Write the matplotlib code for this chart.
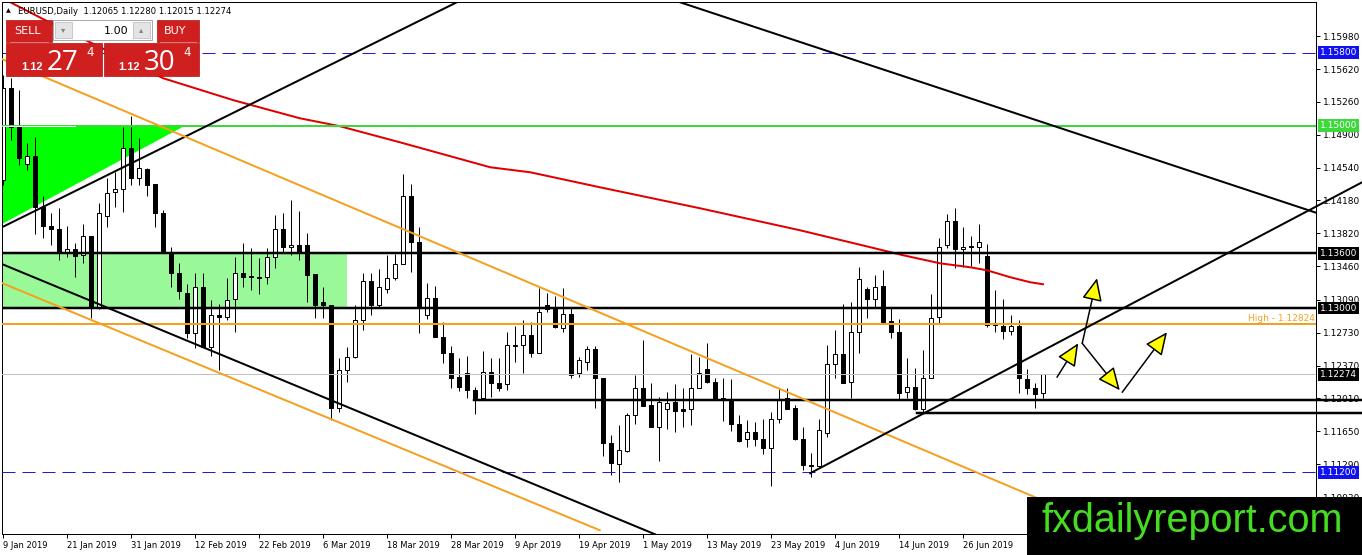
import numpy as np
import matplotlib
matplotlib.use("Agg")
import matplotlib.pyplot as plt
from matplotlib.patches import Rectangle, Polygon

# EURUSD daily, bar 0 = 9 Jan 2019
opens = [1.1440, 1.1541, 1.1498, 1.1458, 1.1467, 1.1411, 1.1390, 1.1387, 1.1360, 1.1365,
         1.1358, 1.1379, 1.1301, 1.1401, 1.1427, 1.1431, 1.1476, 1.1443, 1.1453, 1.1436,
         1.1404, 1.1359, 1.1338, 1.1317, 1.1273, 1.1323, 1.1257, 1.1293, 1.1290, 1.1310,
         1.1338, 1.1335, 1.1334, 1.1334, 1.1356, 1.1387, 1.1367, 1.1369, 1.1369, 1.1337,
         1.1307, 1.1304, 1.1191, 1.1232, 1.1246, 1.1287, 1.1330, 1.1303, 1.1321, 1.1333,
         1.1348, 1.1423, 1.1372, 1.1293, 1.1311, 1.1268, 1.1251, 1.1225, 1.1229, 1.1210,
         1.1201, 1.1230, 1.1218, 1.1217, 1.1259, 1.1260, 1.1271, 1.1251, 1.1303, 1.1301,
         1.1278, 1.1294, 1.1229, 1.1241, 1.1255, 1.1224, 1.1152, 1.1129, 1.1144, 1.1183,
         1.1212, 1.1194, 1.1170, 1.1189, 1.1197, 1.1189, 1.1189, 1.1212, 1.1233, 1.1219,
         1.1201, 1.1198, 1.1173, 1.1157, 1.1164, 1.1157, 1.1147, 1.1179, 1.1201, 1.1191,
         1.1157, 1.1128, 1.1127, 1.1163, 1.1239, 1.1250, 1.1219, 1.1274, 1.1321, 1.1310,
         1.1324, 1.1286, 1.1274, 1.1208, 1.1214, 1.1190, 1.1223, 1.1290, 1.1369, 1.1396,
         1.1365, 1.1367, 1.1367, 1.1357, 1.1283, 1.1280, 1.1275, 1.1280, 1.1222, 1.1212,
         1.12065]
highs = [1.1555, 1.1552, 1.1539, 1.1481, 1.1488, 1.1423, 1.1404, 1.1410, 1.1390, 1.1371,
         1.1392, 1.1379, 1.1415, 1.1443, 1.1449, 1.1498, 1.1511, 1.1487, 1.1454, 1.1436,
         1.1408, 1.1367, 1.1349, 1.1327, 1.1338, 1.1339, 1.1309, 1.1305, 1.1333, 1.1356,
         1.1371, 1.1366, 1.1355, 1.1366, 1.1402, 1.1404, 1.1418, 1.1407, 1.1382, 1.1337,
         1.1323, 1.1304, 1.1245, 1.1257, 1.1303, 1.1338, 1.1338, 1.1343, 1.1358, 1.1359,
         1.1447, 1.1436, 1.1389, 1.1328, 1.1324, 1.1285, 1.1259, 1.1245, 1.1248, 1.1214,
         1.1253, 1.1245, 1.1245, 1.1274, 1.1280, 1.1287, 1.1285, 1.1322, 1.1317, 1.1313,
         1.1322, 1.1301, 1.1246, 1.1259, 1.1259, 1.1224, 1.1161, 1.1172, 1.1185, 1.1227,
         1.1265, 1.1218, 1.1203, 1.1208, 1.1217, 1.1212, 1.1250, 1.1246, 1.1262, 1.1223,
         1.1223, 1.1222, 1.1183, 1.1177, 1.1175, 1.1178, 1.1186, 1.1212, 1.1212, 1.1194,
         1.1170, 1.1141, 1.1179, 1.1260, 1.1276, 1.1305, 1.1307, 1.1345, 1.1323, 1.1336,
         1.1342, 1.1301, 1.1288, 1.1245, 1.1234, 1.1254, 1.1316, 1.1377, 1.1403, 1.1410,
         1.1389, 1.1379, 1.1392, 1.1370, 1.1320, 1.1310, 1.1293, 1.1287, 1.1233, 1.1218,
         1.12280]
lows = [1.1435, 1.1484, 1.1457, 1.1451, 1.1381, 1.1377, 1.1369, 1.1353, 1.1356, 1.1334,
        1.1349, 1.1289, 1.1299, 1.1389, 1.1411, 1.1405, 1.1435, 1.1435, 1.1423, 1.1389,
        1.1360, 1.1323, 1.1310, 1.1267, 1.1256, 1.1257, 1.1248, 1.1232, 1.1287, 1.1274,
        1.1323, 1.1320, 1.1316, 1.1327, 1.1344, 1.1360, 1.1358, 1.1353, 1.1307, 1.1289,
        1.1289, 1.1177, 1.1186, 1.1219, 1.1245, 1.1276, 1.1293, 1.1300, 1.1317, 1.1331,
        1.1348, 1.1340, 1.1273, 1.1288, 1.1268, 1.1240, 1.1212, 1.1209, 1.1201, 1.1184,
        1.1199, 1.1203, 1.1209, 1.1210, 1.1241, 1.1229, 1.1247, 1.1251, 1.1296, 1.1278,
        1.1274, 1.1224, 1.1225, 1.1232, 1.1191, 1.1138, 1.1117, 1.1109, 1.1142, 1.1173,
        1.1193, 1.1170, 1.1132, 1.1168, 1.1164, 1.1170, 1.1172, 1.1212, 1.1218, 1.1199,
        1.1176, 1.1165, 1.1153, 1.1148, 1.1149, 1.1140, 1.1105, 1.1174, 1.1190, 1.1156,
        1.1123, 1.1115, 1.1126, 1.1159, 1.1224, 1.1218, 1.1201, 1.1251, 1.1289, 1.1300,
        1.1283, 1.1267, 1.1200, 1.1201, 1.1188, 1.1185, 1.1223, 1.1283, 1.1366, 1.1344,
        1.1345, 1.1346, 1.1350, 1.1279, 1.1274, 1.1266, 1.1271, 1.1207, 1.1206, 1.1191,
        1.12015]
closes = [1.1541, 1.1498, 1.1465, 1.1467, 1.1411, 1.1390, 1.1387, 1.1360, 1.1365, 1.1357,
          1.1379, 1.1300, 1.1404, 1.1426, 1.1431, 1.1476, 1.1443, 1.1454, 1.1435, 1.1404,
          1.1360, 1.1338, 1.1319, 1.1273, 1.1323, 1.1257, 1.1293, 1.1290, 1.1309, 1.1338,
          1.1334, 1.1334, 1.1333, 1.1356, 1.1387, 1.1367, 1.1369, 1.1361, 1.1336, 1.1304,
          1.1303, 1.1191, 1.1232, 1.1246, 1.1287, 1.1330, 1.1303, 1.1323, 1.1333, 1.1348,
          1.1423, 1.1372, 1.1300, 1.1311, 1.1268, 1.1251, 1.1224, 1.1214, 1.1210, 1.1201,
          1.1230, 1.1218, 1.1212, 1.1260, 1.1260, 1.1271, 1.1251, 1.1296, 1.1299, 1.1279,
          1.1294, 1.1227, 1.1243, 1.1255, 1.1224, 1.1152, 1.1130, 1.1145, 1.1183, 1.1213,
          1.1193, 1.1170, 1.1197, 1.1196, 1.1187, 1.1187, 1.1213, 1.1229, 1.1219, 1.1200,
          1.1199, 1.1173, 1.1154, 1.1164, 1.1157, 1.1147, 1.1179, 1.1200, 1.1190, 1.1157,
          1.1128, 1.1127, 1.1167, 1.1239, 1.1250, 1.1218, 1.1274, 1.1332, 1.1310, 1.1323,
          1.1285, 1.1274, 1.1207, 1.1214, 1.1190, 1.1223, 1.1289, 1.1367, 1.1395, 1.1365,
          1.1367, 1.1368, 1.1372, 1.1282, 1.1282, 1.1275, 1.1280, 1.1223, 1.1212, 1.1206,
          1.12274]

# 200 day moving average, read at some bars
ma_x = [-0.4, 0.9, 5.3, 20, 28.8, 37.1, 42.1, 49.6, 60.9, 65.9, 74.6, 87.1, 99.6,
        108.4, 112.5, 117.1, 120.9, 123, 125.9, 128.4, 130]
ma_y = [1.16407, 1.16353, 1.16155, 1.15520, 1.15279, 1.15081, 1.14994, 1.14818,
        1.14544, 1.14489, 1.14325, 1.14095, 1.13854, 1.13668, 1.13580, 1.13492,
        1.13448, 1.13415, 1.13339, 1.13284, 1.13262]

date_ticks = [0, 8, 16, 24, 32, 40, 48, 56, 64, 72, 80, 88, 96, 104, 112, 120]
date_labels = ["9 Jan 2019", "21 Jan 2019", "31 Jan 2019", "12 Feb 2019", "22 Feb 2019",
               "6 Mar 2019", "18 Mar 2019", "28 Mar 2019", "9 Apr 2019", "19 Apr 2019",
               "1 May 2019", "13 May 2019", "23 May 2019", "4 Jun 2019", "14 Jun 2019",
               "26 Jun 2019"]
price_ticks = [1.15980, 1.15620, 1.15260, 1.14900, 1.14540, 1.14180, 1.13820, 1.13460,
               1.13090, 1.12730, 1.12370, 1.12010, 1.11650, 1.11290, 1.10930]

# drawn objects (bar index, price)
up_line_left = ([-0.375, 56.75], [1.13876, 1.16353])
chan_black = ([-0.375, 81.5], [1.13492, 1.10522])
chan_orange_low = ([-0.375, 74.6], [1.13284, 1.10566])
orange_upper = ([-0.375, 129.6], [1.15739, 1.10906])
long_down = ([84.6, 164.125], [1.16353, 1.14046])
up_line_right = ([100.9, 169.9], [1.11191, 1.14380])
support_1 = ([58.9, 169.9], [1.11990, 1.11990])
support_2 = ([114.25, 169.9], [1.11853, 1.11853])
arrows = [((131.75, 1.12243), (134.4, 1.12615)),
          ((134.9, 1.12615), (136.75, 1.13328)),
          ((134.9, 1.12615), (139.6, 1.12100)),
          ((139.9, 1.12078), (145.5, 1.12736))]

px = 0.72  # one pixel in points at dpi 100

fig = plt.figure(figsize=(13.62, 5.55), dpi=100)
ax = fig.add_axes([2 / 1362, 21 / 555, 1314 / 1362, 532 / 555])
ax.set_xlim(-0.125, 164.125)
ax.set_ylim(1.10525, 1.16355)

# zones
ax.add_patch(Rectangle((-0.4, 1.1301), 43.4, 1.1360 - 1.1301, fc="#99f999", ec="none", zorder=0.5))
ax.add_patch(Polygon([(-0.4, 1.1500), (22.75, 1.1500), (-0.4, 1.13909)], closed=True,
                     fc="#00ff00", ec="none", zorder=0.6))

# candles
idx = np.arange(len(opens))
o = np.array(opens); c = np.array(closes)
up = c >= o
ax.vlines(idx, lows, highs, color="black", lw=px, zorder=2)
body_lo = np.minimum(o, c)
body_h = np.maximum(np.abs(c - o), 0.00003)
ax.bar(idx[up], body_h[up], bottom=body_lo[up], width=0.62, color="white",
       edgecolor="black", lw=px, zorder=2.2)
ax.bar(idx[~up], body_h[~up], bottom=body_lo[~up], width=0.62, color="black",
       edgecolor="black", lw=px, zorder=2.2)

ax.plot(ma_x, ma_y, color="#e00000", lw=2 * px, zorder=2.5)

# horizontal levels
for lvl in (1.158, 1.112):
    ax.axhline(lvl, color="#1c1cd0", lw=px, dashes=(13, 7), zorder=3)
ax.axhline(1.15, color="#3cd83c", lw=2 * px, zorder=3)
ax.plot([0, 9], [1.15, 1.15], color="white", lw=px, zorder=3.1)
ax.axhline(1.136, color="black", lw=2.5 * px, zorder=3)
ax.axhline(1.13, color="black", lw=2.5 * px, zorder=3)
ax.axhline(1.12824, color="#f5a020", lw=2 * px, zorder=3)
ax.axhline(1.12274, color="#c0c0c0", lw=px, zorder=3)
for xs, ys in (support_1, support_2):
    ax.plot(xs, ys, color="black", lw=2.5 * px, zorder=3, clip_on=False)

# trend lines
ax.plot(*up_line_left, color="black", lw=2 * px, zorder=3)
ax.plot(*chan_black, color="black", lw=2 * px, zorder=3)
ax.plot(*chan_orange_low, color="#f5a020", lw=2 * px, zorder=3)
ax.plot(*orange_upper, color="#f5a020", lw=2 * px, zorder=3)
ax.plot(*long_down, color="black", lw=2 * px, zorder=3)
ax.plot(*up_line_right, color="black", lw=2 * px, zorder=3, clip_on=False)

for start, tip in arrows:
    ax.annotate("", xy=tip, xytext=start, zorder=4,
                arrowprops=dict(arrowstyle="-|>,head_length=1.0,head_width=0.45",
                                fc="#ffff00", ec="black", lw=1.5 * px,
                                mutation_scale=14, shrinkA=0, shrinkB=0))

ax.text(164.0, 1.12824 + 0.00012, "High - 1.12824", color="#f5a020", fontsize=6.5,
        ha="right", va="bottom", zorder=4)

# axes styling
for s in ax.spines.values():
    s.set_linewidth(px)
ax.yaxis.tick_right()
ax.set_yticks(price_ticks)
ax.set_yticklabels([f"{p:.5f}" for p in price_ticks])
ax.set_xticks(date_ticks)
ax.set_xticklabels(date_labels)
ax.tick_params(axis="both", direction="out", length=3, width=px, pad=2)
ax.tick_params(axis="y", labelsize=6.5)
ax.tick_params(axis="x", labelsize=6)
for lab in ax.get_xticklabels():
    lab.set_ha("left")

ytr = ax.get_yaxis_transform()
price_tags = [("1.15800", 1.158, "#1010f0"), ("1.15000", 1.150, "#3cd83c"),
              ("1.13600", 1.136, "black"), ("1.13000", 1.130, "black"),
              ("1.12274", 1.12274, "black"), ("1.11200", 1.112, "#1010f0")]
for txt, lvl, col in price_tags:
    ax.text(1 + 4 / 1314, lvl, txt, transform=ytr, color="white", fontsize=6.5,
            ha="left", va="center", clip_on=False, zorder=6,
            bbox=dict(boxstyle="square,pad=0.2", fc=col, ec="none"))

# overlay in pixel coordinates for the trade panel, header and watermark
ov = fig.add_axes([0, 0, 1, 1], zorder=10)
ov.set_xlim(0, 1362)
ov.set_ylim(555, 0)
ov.axis("off")
ov.patch.set_alpha(0)

ov.text(8, 11, "▲", fontsize=4.5, ha="center", va="center")
ov.text(18, 11, "EURUSD,Daily  1.12065 1.12280 1.12015 1.12274", fontsize=6.1,
        ha="left", va="center")

red = "#cf1f1f"
ov.add_patch(Rectangle((6, 20), 46, 22, fc=red, ec="#b01010", lw=0.5))
ov.add_patch(Rectangle((157, 20), 42, 22, fc=red, ec="#b01010", lw=0.5))
ov.add_patch(Rectangle((6, 43), 96, 33, fc=red, ec="#b01010", lw=0.5))
ov.add_patch(Rectangle((104, 43), 95, 33, fc=red, ec="#b01010", lw=0.5))
ov.plot([10, 48], [42, 42], color="#f08080", lw=0.6)
ov.plot([160, 196], [42, 42], color="#f08080", lw=0.6)
ov.add_patch(Rectangle((53, 20), 99, 20, fc="white", ec="#a8a8a8", lw=0.7))
ov.add_patch(Rectangle((55, 22), 17, 16, fc="#e4e4e4", ec="#b8b8b8", lw=0.5))
ov.add_patch(Rectangle((133, 22), 17, 16, fc="#e4e4e4", ec="#b8b8b8", lw=0.5))
ov.text(63.5, 30, "▾", fontsize=6, color="#808080", ha="center", va="center")
ov.text(141.5, 30, "▴", fontsize=6, color="#808080", ha="center", va="center")
ov.text(128, 30.5, "1.00", fontsize=8, ha="right", va="center")
ov.text(28, 31, "SELL", fontsize=8, color="white", ha="center", va="center")
ov.text(175, 31, "BUY", fontsize=8, color="white", ha="center", va="center")

for x0, big in ((21, "27"), (118, "30")):
    ov.text(x0, 70, "1.12", fontsize=8, color="white", weight="bold",
            ha="left", va="baseline", family="Liberation Sans")
    ov.text(x0 + 26, 70.5, big, fontsize=20, color="white", ha="left",
            va="baseline", family="Open Sans")
    ov.text(x0 + 65, 56, "4", fontsize=8.5, color="white", ha="left",
            va="baseline", family="DejaVu Sans")

ov.add_patch(Rectangle((1027, 497), 335, 58, fc="black", ec="none"))
ov.text(1042, 532, "fxdailyreport.com", fontsize=28.5, color="#44dd22",
        family="Liberation Sans", ha="left", va="baseline")

fig.savefig("out.png", dpi=100)
